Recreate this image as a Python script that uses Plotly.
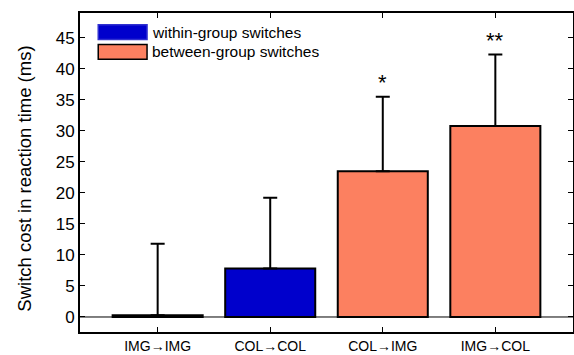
import plotly.graph_objects as go

categories = ["IMG→IMG", "COL→COL", "COL→IMG", "IMG→COL"]
means = [0.3, 7.8, 23.5, 30.8]
err_upper = [11.5, 11.4, 12.0, 11.5]
groups = ["within", "within", "between", "between"]
stars = ["", "", "*", "**"]
yticks = [0, 5, 10, 15, 20, 25, 30, 35, 40, 45]

BLUE = "#0000CC"
SALMON = "#FC8060"
colors = [BLUE if g == "within" else SALMON for g in groups]

fig = go.Figure()
fig.add_trace(go.Bar(
    x=list(range(len(categories))), y=means, width=0.8,
    marker=dict(color=colors, line=dict(color="black", width=2)),
    error_y=dict(type="data", symmetric=False, array=err_upper,
                 arrayminus=[0] * 4, color="black", thickness=2, width=7),
    showlegend=False,
))

for i, s in enumerate(stars):
    if s:
        fig.add_annotation(x=i, y=means[i] + err_upper[i], text=s, showarrow=False,
                           yanchor="bottom", yshift=0,
                           font=dict(size=22, color="black", family="Liberation Sans"))

fig.add_shape(type="line", xref="paper", x0=0, x1=1, yref="y", y0=0, y1=0,
              line=dict(color="black", width=1))

# legend
leg = [("within-group switches", BLUE, 0.94), ("between-group switches", SALMON, 0.878)]
for text, col, yc in leg:
    fig.add_shape(type="rect", xref="paper", yref="paper",
                  x0=0.037, x1=0.136, y0=yc - 0.023, y1=yc + 0.023,
                  fillcolor=col, line=dict(color="#3030D0" if col == BLUE else "black", width=1.5))
    fig.add_annotation(xref="paper", yref="paper", x=0.141, y=yc, text=text,
                       showarrow=False, xanchor="left", yanchor="middle",
                       font=dict(size=15.5, color="black", family="Liberation Sans"))

# y-axis title
fig.add_annotation(xref="paper", yref="paper", x=-0.112, y=0.48, text="Switch cost in reaction time (ms)",
                   textangle=-90, showarrow=False, xanchor="center", yanchor="middle",
                   font=dict(size=18.5, color="black", family="Liberation Sans"))

axis_common = dict(showline=True, linecolor="black", linewidth=2, mirror="ticks",
                   ticks="inside", ticklen=5, tickcolor="black", tickwidth=1,
                   showgrid=False, zeroline=False, automargin=False)

fig.update_layout(
    width=574, height=355,
    margin=dict(l=80, r=1, t=13, b=23),
    plot_bgcolor="white", paper_bgcolor="white",
    font=dict(family="Liberation Sans", color="black"),
    xaxis=dict(range=[-0.69, 3.69], tickvals=list(range(4)), ticktext=categories,
               tickfont=dict(size=14), **axis_common),
    yaxis=dict(range=[-2.42, 49], tickvals=yticks, tickfont=dict(size=17),
               **axis_common),
)

fig.write_html("out.html", config={"displayModeBar": False},
               post_script="document.body.style.margin='0';document.body.style.padding='0';"
                           "document.body.style.overflow='hidden';")
